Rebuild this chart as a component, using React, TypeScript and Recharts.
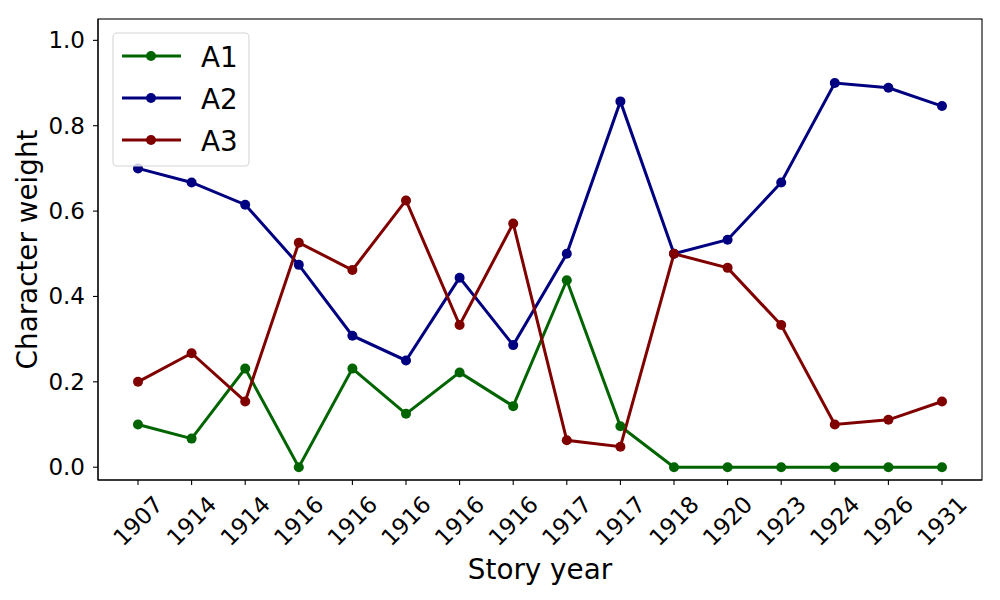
import React from "react";
import { LineChart, Line, XAxis, YAxis } from "recharts";

// story years (repeated years are separate stories)
const years = [
  "1907", "1914", "1914", "1916", "1916", "1916", "1916", "1916",
  "1917", "1917", "1918", "1920", "1923", "1924", "1926", "1931",
];

const a1 = [0.1, 0.067, 0.231, 0.0, 0.231, 0.125, 0.222, 0.143, 0.438, 0.096, 0, 0, 0, 0, 0, 0];
const a2 = [0.7, 0.667, 0.615, 0.474, 0.308, 0.25, 0.444, 0.286, 0.5, 0.857, 0.5, 0.533, 0.667, 0.9, 0.889, 0.846];
const a3 = [0.2, 0.267, 0.154, 0.526, 0.462, 0.625, 0.333, 0.571, 0.063, 0.048, 0.5, 0.467, 0.333, 0.1, 0.111, 0.154];

const yTicks = [0, 0.2, 0.4, 0.6, 0.8, 1.0];

const SERIES = [
  { key: "A1", color: "#006400" },
  { key: "A2", color: "#000080" },
  { key: "A3", color: "#800000" },
];

const FONT = "DejaVu Sans";
const TICK_FS = 23;

const data = years.map((year, i) => ({ idx: i, year, A1: a1[i], A2: a2[i], A3: a3[i] }));

// rotated year label, centred under its tick like matplotlib rotation=45
const YearTick = (props: any) => {
  const { x, y, payload } = props;
  return (
    <text
      transform={`translate(${x}, ${y + 34}) rotate(-45)`}
      textAnchor="middle"
      dominantBaseline="central"
      fontSize={TICK_FS}
      fontFamily={FONT}
      fill="#000"
    >
      {years[payload.value]}
    </text>
  );
};

const ValueTick = (props: any) => {
  const { x, y, payload } = props;
  return (
    <text x={x} y={y} dy={8} textAnchor="end" fontSize={TICK_FS} fontFamily={FONT} fill="#000">
      {Number(payload.value).toFixed(1)}
    </text>
  );
};

export default function App() {
  return (
    <div style={{ position: "absolute", left: 0, top: 0, width: 1000, height: 600, background: "#fff" }}>
      <LineChart width={1000} height={600} data={data} margin={{ top: 19, right: 18, left: 0, bottom: 0 }}>
        <XAxis
          dataKey="idx"
          type="category"
          height={120}
          padding={{ left: 40, right: 40 }}
          interval={0}
          tick={<YearTick />}
          tickSize={5}
          tickMargin={2}
          axisLine={{ stroke: "#000", strokeWidth: 1.1 }}
          tickLine={{ stroke: "#000", strokeWidth: 1.1 }}
        />
        <YAxis
          width={98}
          domain={[-0.03, 1.05]}
          allowDataOverflow
          ticks={yTicks}
          interval={0}
          tickSize={5}
          tickMargin={8}
          tick={<ValueTick />}
          axisLine={{ stroke: "#000", strokeWidth: 1.1 }}
          tickLine={{ stroke: "#000", strokeWidth: 1.1 }}
        />
        {SERIES.map((s) => (
          <Line
            key={s.key}
            dataKey={s.key}
            stroke={s.color}
            strokeWidth={3}
            dot={{ r: 5, fill: s.color, stroke: s.color, strokeWidth: 0 }}
            activeDot={false}
            isAnimationActive={false}
          />
        ))}
      </LineChart>

      {/* frame, axis titles and legend drawn on top */}
      <svg
        width={1000}
        height={600}
        style={{ position: "absolute", left: 0, top: 0, pointerEvents: "none" }}
        fontFamily={FONT}
      >
        <rect x={98} y={19} width={884} height={461} fill="none" stroke="#000" strokeWidth={1.1} />
        <text x={540} y={579} textAnchor="middle" fontSize={27.8} fill="#000">
          Story year
        </text>
        <text
          x={37}
          y={249.5}
          transform="rotate(-90, 37, 249.5)"
          textAnchor="middle"
          fontSize={27.8}
          fill="#000"
        >
          Character weight
        </text>

        <rect x={113} y={33} width={136} height={133} rx={4} fill="#fff" fillOpacity={0.8} stroke="#d6d6d6" strokeWidth={1.1} />
        {SERIES.map((s, i) => {
          const cy = 56 + i * 42;
          return (
            <g key={s.key}>
              <line x1={122} x2={181} y1={cy} y2={cy} stroke={s.color} strokeWidth={3} />
              <circle cx={151} cy={cy} r={5} fill={s.color} />
              <text x={201} y={cy + 10.5} fontSize={27.8} fill="#000">
                {s.key}
              </text>
            </g>
          );
        })}
      </svg>
    </div>
  );
}
